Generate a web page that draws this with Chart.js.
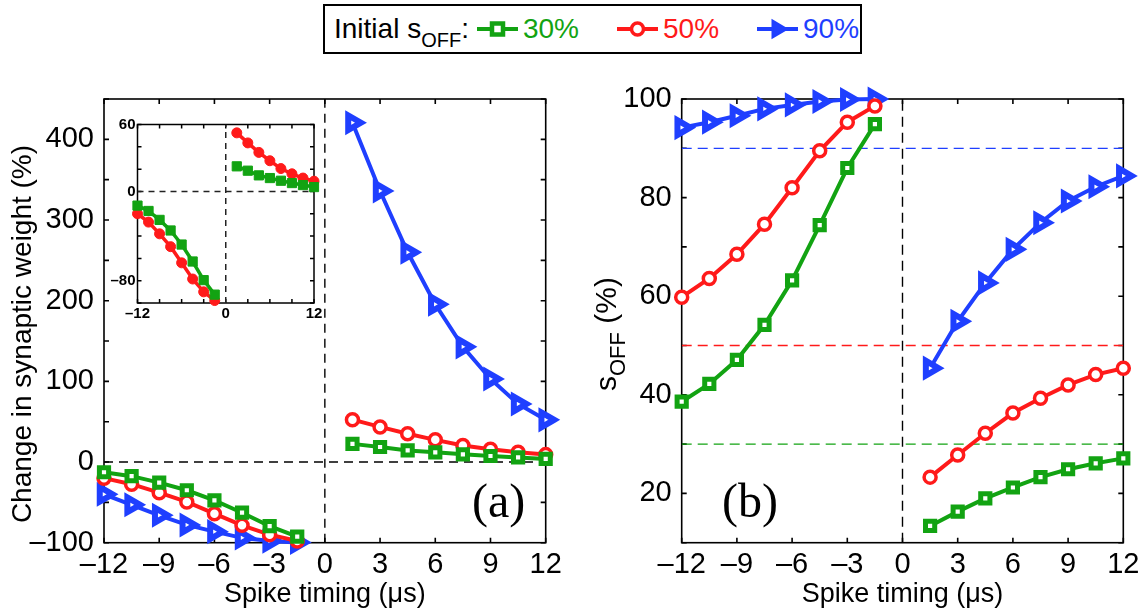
<!DOCTYPE html>
<html>
<head>
<meta charset="utf-8">
<script src="https://cdn.jsdelivr.net/npm/chart.js@4.4.1/dist/chart.umd.min.js"></script>
<style>
  body { margin: 0; background: #fff; }
  #page { position: relative; width: 1147px; height: 611px; overflow: hidden; background: #fff;
          font-family: "Liberation Sans", Arial, sans-serif; }
  canvas { position: absolute; }
  #legend { position: absolute; left: 323px; top: 4px; width: 539px; height: 50px; box-sizing: border-box;
            border: 2px solid #000; background: #fff; display: flex; align-items: center;
            padding-left: 9px; font-size: 28px; line-height: 1; white-space: nowrap; }
  #legend .sub { font-size: 20px; position: relative; top: 9px; }
  #lead { margin-right: 8px; flex-shrink: 0; }
  .item { display: flex; align-items: center; margin-right: 38px; flex-shrink: 0; }
  .item svg { margin-right: 5px; }
</style>
</head>
<body>
<div id="page">
  <canvas id="chartA" width="570" height="611" style="left:0;top:0;width:570px;height:611px"></canvas>
  <canvas id="chartB" width="577" height="611" style="left:570px;top:0;width:577px;height:611px"></canvas>
  <canvas id="inset" width="235" height="215" style="left:95px;top:110px;width:235px;height:215px"></canvas>
  <div id="legend"><span id="lead">Initial s<span class="sub">OFF</span>:</span></div>
</div>
<script>
// spike timing (us): depression side and potentiation side
const timesLTD = [-12, -10.5, -9, -7.5, -6, -4.5, -3, -1.5];
const timesLTP = [1.5, 3, 4.5, 6, 7.5, 9, 10.5, 12];

// (a) change in synaptic weight (%), one value per timing (LTD then LTP)
const dw30 = [-12.7, -17.5, -25.5, -35, -47.6, -62.8, -79.5, -92.5, 22.5, 18.6, 14.4, 12, 9.6, 7.5, 5.7, 3.9];
const dw50 = [-20, -27.5, -38, -49.5, -64, -78.5, -90, -97.8, 52.5, 43.5, 35, 27.5, 20.5, 15.8, 12, 9.2];
const dw90 = [-40, -53, -66, -78, -86.3, -94, -98, -99.6, 420.6, 336, 260, 195.5, 142.8, 103, 72, 52.3];

// (b) final s_OFF (%)
const sOff30 = [38.6, 42.2, 47.1, 54.2, 63.2, 74.4, 86, 94.9, 13.4, 16.3, 19, 21.2, 23.3, 24.9, 26.1, 27.1];
const sOff50 = [59.8, 63.6, 68.5, 74.6, 82, 89.5, 95.3, 98.6, 23.3, 27.8, 32.2, 36.3, 39.3, 42, 44.1, 45.4];
const sOff90 = [94.2, 95.3, 96.6, 98, 98.8, 99.5, 99.9, 100, 45.4, 54.9, 62.7, 69.5, 74.9, 79.3, 82.2, 84.4];

// initial s_OFF levels (%)
const initialLevels = [30, 50, 90];
const seriesNames = ["30%", "50%", "90%"];

const seriesColors = ["#12a312", "#ff1a1a", "#1f3fff"];
const seriesShapes = ["rect", "circle", "triangle"];
const seriesRadius = [6.5, 6, 8.5];
const seriesBorder = [5, 3.5, 6];

const xTicks = { min: -12, max: 12, step: 3 };
const yTicksA = { min: -100, max: 450, step: 50, label: 100 };
const yTicksB = { min: 10, max: 100, step: 10, label: 20 };
const xTicksInset = { min: -12, max: 12, step: 3, labels: [-12, 0, 12] };
const yTicksInset = { min: -100, max: 60, step: 20, labels: [60, 0, -80] };

Chart.defaults.font.family = '"Liberation Sans", Arial, sans-serif';
Chart.defaults.color = "#000";

const fmt = (v) => (v < 0 ? "\u2013" + Math.abs(v) : String(v));

const toPoints = (vals) => {
  const pts = timesLTD.map((t, i) => ({ x: t, y: vals[i] }));
  pts.push({ x: 0, y: null }); // break the line at zero timing
  timesLTP.forEach((t, i) => pts.push({ x: t, y: vals[timesLTD.length + i] }));
  return pts;
};

const seriesSet = (valueLists) =>
  valueLists.map((vals, i) => ({
    label: seriesNames[i],
    data: toPoints(vals),
    borderColor: seriesColors[i],
    backgroundColor: "#fff",
    borderWidth: 4,
    pointStyle: seriesShapes[i],
    pointRotation: seriesShapes[i] === "triangle" ? 90 : 0,
    pointRadius: seriesRadius[i],
    pointBorderWidth: seriesBorder[i],
    pointBackgroundColor: "#fff",
    pointBorderColor: seriesColors[i],
    spanGaps: false,
    clip: false,
    order: 0,
  }));

const dashedLine = (pts, color, width, dash) => ({
  data: pts,
  borderColor: color,
  borderWidth: width,
  borderDash: dash,
  pointRadius: 0,
  order: 1,
});

// box with inward tick marks on all four sides
const framePlugin = {
  id: "frame",
  beforeDatasetsDraw(chart, args, opts) {
    const { ctx, chartArea: a, scales } = chart;
    const len = opts.tick || 5;
    ctx.save();
    ctx.strokeStyle = "#000";
    ctx.lineWidth = opts.width || 1.5;
    ctx.beginPath();
    scales.x.ticks.forEach((t) => {
      const px = scales.x.getPixelForValue(t.value);
      ctx.moveTo(px, a.bottom);
      ctx.lineTo(px, a.bottom - len);
      ctx.moveTo(px, a.top);
      ctx.lineTo(px, a.top + len);
    });
    scales.y.ticks.forEach((t) => {
      const py = scales.y.getPixelForValue(t.value);
      ctx.moveTo(a.left, py);
      ctx.lineTo(a.left + len, py);
      ctx.moveTo(a.right, py);
      ctx.lineTo(a.right - len, py);
    });
    ctx.stroke();
    ctx.strokeRect(a.left, a.top, a.right - a.left, a.bottom - a.top);
    ctx.restore();
  },
};

// panel letter and rotated y-axis name (with optional subscript)
const notePlugin = {
  id: "notes",
  afterDraw(chart, args, opts) {
    const ctx = chart.ctx;
    ctx.save();
    ctx.fillStyle = "#000";
    ctx.textBaseline = "alphabetic";
    if (opts.tag) {
      ctx.font = '48px "Liberation Serif", "Times New Roman", serif';
      ctx.fillText(opts.tag.text, opts.tag.x, opts.tag.y);
    }
    if (opts.yName) {
      const n = opts.yName;
      ctx.translate(n.x, n.y);
      ctx.rotate(-Math.PI / 2);
      const big = n.size + 'px "Liberation Sans", Arial, sans-serif';
      const small = (n.subSize || n.size) + 'px "Liberation Sans", Arial, sans-serif';
      const parts = [[n.main, big, 0], [n.sub || "", small, n.subShift || 0], [n.tail || "", big, 0]];
      let total = 0;
      parts.forEach((p) => { ctx.font = p[1]; total += ctx.measureText(p[0]).width; });
      let cx = -total / 2;
      parts.forEach((p) => {
        ctx.font = p[1];
        ctx.fillText(p[0], cx, p[2]);
        cx += ctx.measureText(p[0]).width;
      });
    }
    ctx.restore();
  },
};

Chart.register(framePlugin, notePlugin);

const baseOptions = (xCfg, yCfg, pad, notes, frame) => ({
  responsive: false,
  animation: false,
  devicePixelRatio: 1,
  events: [],
  layout: { padding: pad },
  plugins: { legend: { display: false }, tooltip: { enabled: false }, notes: notes, frame: frame },
  scales: { x: xCfg, y: yCfg },
});

const mainX = (height) => ({
  type: "linear",
  min: xTicks.min,
  max: xTicks.max,
  grid: { display: false, drawTicks: false },
  border: { display: false },
  ticks: {
    stepSize: xTicks.step,
    padding: 5,
    maxRotation: 0,
    autoSkip: false,
    font: { size: 29 },
    callback: (v) => fmt(v),
  },
  title: { display: true, text: "Spike timing (\u03bcs)", font: { size: 27 }, padding: { top: 0, bottom: 0 } },
  afterFit: (s) => { s.height = height; },
});

const mainY = (cfg, width) => ({
  type: "linear",
  min: cfg.min,
  max: cfg.max,
  grid: { display: false, drawTicks: false },
  border: { display: false },
  ticks: {
    stepSize: cfg.step,
    padding: 10,
    autoSkip: false,
    font: { size: 29 },
    callback: (v) => (v % cfg.label === 0 ? fmt(v) : ""),
  },
  afterFit: (s) => { s.width = width; },
});

// panel (a): change in synaptic weight
new Chart(document.getElementById("chartA"), {
  type: "line",
  data: {
    datasets: [
      ...seriesSet([dw30, dw50, dw90]),
      dashedLine([{ x: xTicks.min, y: 0 }, { x: xTicks.max, y: 0 }], "#000", 1.4, [9, 6]),
      dashedLine([{ x: 0, y: yTicksA.min }, { x: 0, y: yTicksA.max }], "#000", 1.4, [9, 6]),
    ],
  },
  options: baseOptions(
    mainX(68.3),
    mainY(yTicksA, 104),
    { left: 0, top: 99, right: 24.3, bottom: 0 },
    {
      tag: { text: "(a)", x: 472, y: 517 },
      yName: { main: "Change in synaptic weight (%)", size: 28, x: 31, y: 334 },
    },
    { tick: 5, width: 1.6 }
  ),
});

// panel (b): final s_OFF, with the initial levels as dashed lines
new Chart(document.getElementById("chartB"), {
  type: "line",
  data: {
    datasets: [
      ...seriesSet([sOff30, sOff50, sOff90]),
      ...initialLevels.map((lv, i) =>
        dashedLine([{ x: xTicks.min, y: lv }, { x: xTicks.max, y: lv }], seriesColors[i], 1.3, [10, 6])
      ),
      dashedLine([{ x: 0, y: yTicksB.min }, { x: 0, y: yTicksB.max }], "#000", 1.4, [10, 6]),
    ],
  },
  options: baseOptions(
    mainX(68.3),
    mainY(yTicksB, 111.7),
    { left: 0, top: 99, right: 23.7, bottom: 0 },
    {
      tag: { text: "(b)", x: 152, y: 517 },
      yName: { main: "s", sub: "OFF", tail: " (%)", size: 30, subSize: 22, subShift: 9, x: 46, y: 334 },
    },
    { tick: 5, width: 1.6 }
  ),
});

// inset: 30% and 50% curves of panel (a) on a finer scale
const insetTicks = (cfg) => ({
  stepSize: cfg.step,
  padding: 2,
  maxRotation: 0,
  autoSkip: false,
  font: { size: 15, weight: "bold" },
  callback: (v) => (cfg.labels.includes(v) ? fmt(v) : ""),
});

new Chart(document.getElementById("inset"), {
  type: "line",
  data: {
    datasets: [
      ...[dw30, dw50].map((vals, i) => ({
        data: toPoints(vals),
        borderColor: seriesColors[i],
        borderWidth: 3.5,
        pointStyle: seriesShapes[i],
        pointRadius: i === 0 ? 6.5 : 5,
        pointBorderWidth: 1,
        pointBackgroundColor: seriesColors[i],
        pointBorderColor: seriesColors[i],
        spanGaps: false,
        clip: false,
        order: 0,
      })),
      dashedLine([{ x: xTicksInset.min, y: 0 }, { x: xTicksInset.max, y: 0 }], "#222", 1.5, [6, 5]),
      dashedLine([{ x: 0, y: yTicksInset.min }, { x: 0, y: yTicksInset.max }], "#222", 1.5, [6, 5]),
    ],
  },
  options: baseOptions(
    {
      type: "linear",
      min: xTicksInset.min,
      max: xTicksInset.max,
      grid: { display: false, drawTicks: false },
      border: { display: false },
      ticks: insetTicks(xTicksInset),
      afterFit: (s) => { s.height = 22; },
    },
    {
      type: "linear",
      min: yTicksInset.min,
      max: yTicksInset.max,
      grid: { display: false, drawTicks: false },
      border: { display: false },
      ticks: insetTicks(yTicksInset),
      afterFit: (s) => { s.width = 42.5; },
    },
    { left: 0, top: 14.5, right: 16, bottom: 0 },
    {},
    { tick: 4, width: 1.5 }
  ),
});

// legend row built from the series names and styles
const legend = document.getElementById("legend");
const swatch = (i) => {
  const c = seriesColors[i];
  let mark;
  if (seriesShapes[i] === "rect") {
    mark = `<rect x="15" y="6.5" width="11" height="11" fill="#fff" stroke="${c}" stroke-width="4.5"/>`;
  } else if (seriesShapes[i] === "circle") {
    mark = `<circle cx="20.5" cy="12" r="6" fill="#fff" stroke="${c}" stroke-width="3.5"/>`;
  } else {
    mark = `<polygon points="30,12 15.5,3.6 15.5,20.4" fill="${c}" stroke="${c}" stroke-width="2"/>`;
  }
  return `<svg width="41" height="24" viewBox="0 0 41 24"><line x1="0" y1="12" x2="41" y2="12" stroke="${c}" stroke-width="4"/>${mark}</svg>`;
};
seriesNames.forEach((name, i) => {
  const item = document.createElement("span");
  item.className = "item";
  item.innerHTML = swatch(i) + `<span style="color:${seriesColors[i]}">${name}</span>`;
  legend.appendChild(item);
});
</script>
</body>
</html>
